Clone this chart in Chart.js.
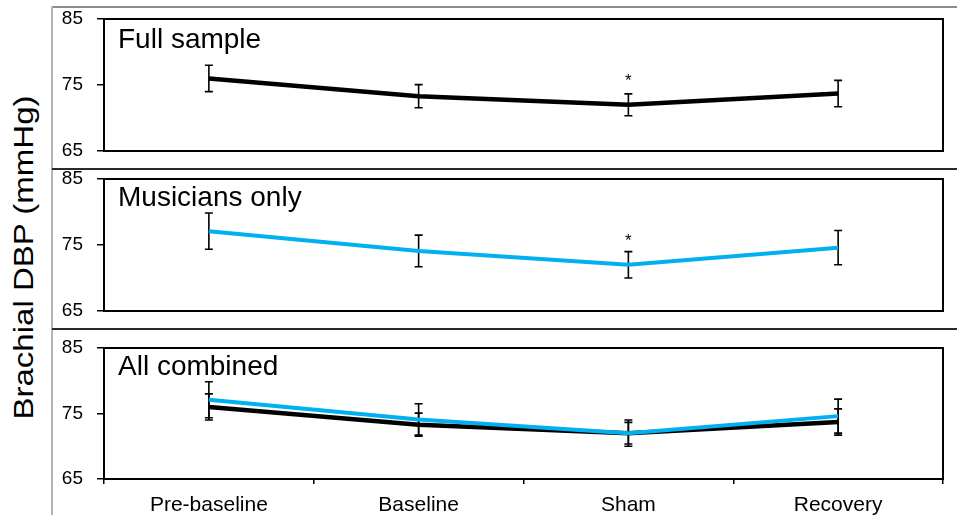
<!DOCTYPE html>
<html lang="en">
<head>
    <meta charset="UTF-8">
    <title>Brachial DBP</title>

    <!-- Chart.js -->
    <script src="https://cdn.jsdelivr.net/npm/chart.js"></script>

    <style>
        body {
            margin: 0;
            width: 957px;
            height: 515px;
            overflow: hidden;
            position: relative;
            background: #ffffff;
            font-family: "Liberation Sans", Arial, sans-serif;
        }

        canvas {
            position: absolute;
            left: 0;
        }

        /* outer frame and panel separators */
        .frame-top {
            position: absolute;
            left: 52px;
            top: 6px;
            width: 905px;
            border-top: 2px solid #8c8c8c;
        }

        .frame-left {
            position: absolute;
            left: 51px;
            top: 6px;
            height: 509px;
            border-left: 2px solid #b4b4b4;
        }

        .sep {
            position: absolute;
            left: 52px;
            width: 905px;
            border-top: 2px solid #2a2a2a;
        }

        #yTitle {
            position: absolute;
            width: 400px;
            height: 33px;
            line-height: 33px;
            left: -177px;
            top: 241px;
            font-size: 33px;
            text-align: center;
            color: #000;
            transform: rotate(-90deg) scaleY(0.86);
            white-space: nowrap;
        }
    </style>
</head>
<body>
    <div class="frame-top"></div>
    <div class="frame-left"></div>
    <div class="sep" style="top:168px"></div>
    <div class="sep" style="top:328px"></div>
    <div id="yTitle">Brachial DBP (mmHg)</div>

    <!-- canvases overlap a little: the y axis asks for 30px above and below the plot -->
    <canvas id="fullChart" width="957" height="192" style="top:-11px"></canvas>
    <canvas id="musChart" width="957" height="192" style="top:149px"></canvas>
    <canvas id="allChart" width="957" height="197" style="top:318px"></canvas>

    <script>
        // data
        const categories = ['Pre-baseline', 'Baseline', 'Sham', 'Recovery'];
        const fullMean = [76.0, 73.3, 72.0, 73.7];
        const fullErr = [2.0, 1.75, 1.65, 2.0];
        const musMean = [77.1, 74.1, 72.0, 74.6];
        const musErr = [2.75, 2.4, 2.0, 2.6];
        const starLevel = [null, null, 76.4, null];
        const yTicks = [65, 75, 85];

        const BLUE = '#00b0f0';
        const FONT = '"Liberation Sans", Arial, sans-serif';

        // error bars, drawn under the lines
        const errorBars = {
            id: 'errorBars',
            beforeDatasetsDraw(chart) {
                const ctx = chart.ctx;
                const xs = chart.scales.x, ys = chart.scales.y;
                ctx.save();
                ctx.strokeStyle = '#000';
                ctx.lineWidth = 1.6;
                chart.data.datasets.forEach(ds => {
                    ds.data.forEach((v, i) => {
                        const px = xs.getPixelForValue(i);
                        const top = ys.getPixelForValue(v + ds.errors[i]);
                        const bot = ys.getPixelForValue(v - ds.errors[i]);
                        ctx.beginPath();
                        ctx.moveTo(px, top); ctx.lineTo(px, bot);
                        ctx.moveTo(px - 4, top); ctx.lineTo(px + 4, top);
                        ctx.moveTo(px - 4, bot); ctx.lineTo(px + 4, bot);
                        ctx.stroke();
                    });
                });
                ctx.restore();
            }
        };

        // box round the plot area, panel title and significance stars
        const panelDecor = {
            id: 'panelDecor',
            afterDraw(chart, args, opts) {
                const ctx = chart.ctx;
                const a = chart.chartArea;
                ctx.save();
                ctx.strokeStyle = '#000';
                ctx.lineWidth = 2;
                ctx.strokeRect(a.left, a.top, a.right - a.left, a.bottom - a.top);

                ctx.fillStyle = '#000';
                ctx.font = '28px ' + FONT;
                ctx.textBaseline = 'alphabetic';
                ctx.textAlign = 'left';
                ctx.fillText(opts.text, a.left + 14, a.top + opts.baseline);

                if (opts.stars) {
                    ctx.font = '17px ' + FONT;
                    ctx.textAlign = 'center';
                    opts.stars.forEach((s, i) => {
                        if (s === null) return;
                        const px = chart.scales.x.getPixelForValue(i);
                        const py = chart.scales.y.getPixelForValue(s);
                        ctx.fillText('*', px, py + 10);
                    });
                }
                ctx.restore();
            }
        };

        function makeChart(id, datasets, opts) {
            return new Chart(document.getElementById(id), {
                type: 'line',
                data: { labels: categories, datasets: datasets },
                options: {
                    responsive: false,
                    animation: false,
                    layout: { padding: opts.padding },
                    elements: {
                        point: { radius: 0 },
                        line: { tension: 0, borderWidth: 4 }
                    },
                    plugins: {
                        legend: { display: false },
                        tooltip: { enabled: false },
                        panelDecor: { text: opts.title, baseline: opts.baseline, stars: opts.stars }
                    },
                    scales: {
                        x: {
                            display: opts.showX,
                            offset: true,
                            grid: { offset: true, drawOnChartArea: false, tickLength: 5, color: '#000', lineWidth: 1.5 },
                            border: { display: false },
                            ticks: { color: '#000', font: { size: 21, family: FONT }, padding: 9, maxRotation: 0 },
                            afterFit(scale) { if (opts.showX) scale.height = 36; }
                        },
                        y: {
                            min: 65,
                            max: 85,
                            afterBuildTicks(scale) { scale.ticks = yTicks.map(v => ({ value: v })); },
                            grid: { drawOnChartArea: false, tickLength: 7, color: '#000', lineWidth: 1.5 },
                            border: { display: false },
                            ticks: { color: '#000', font: { size: 19, family: FONT }, padding: 14 },
                            afterFit(scale) { scale.width = 104; }
                        }
                    }
                },
                plugins: [errorBars, panelDecor]
            });
        }

        makeChart('fullChart', [
            { data: fullMean, errors: fullErr, borderColor: '#000', borderWidth: 4.5 }
        ], { title: 'Full sample', baseline: 29, stars: starLevel, showX: false,
             padding: { top: 30, bottom: 30, left: 0, right: 14 } });

        makeChart('musChart', [
            { data: musMean, errors: musErr, borderColor: BLUE }
        ], { title: 'Musicians only', baseline: 27, stars: starLevel, showX: false,
             padding: { top: 30, bottom: 30, left: 0, right: 14 } });

        makeChart('allChart', [
            { data: musMean, errors: musErr, borderColor: BLUE },
            { data: fullMean, errors: fullErr, borderColor: '#000', borderWidth: 4.5 }
        ], { title: 'All combined', baseline: 27, stars: null, showX: true,
             padding: { top: 30, bottom: 0, left: 0, right: 14 } });
    </script>
</body>
</html>
